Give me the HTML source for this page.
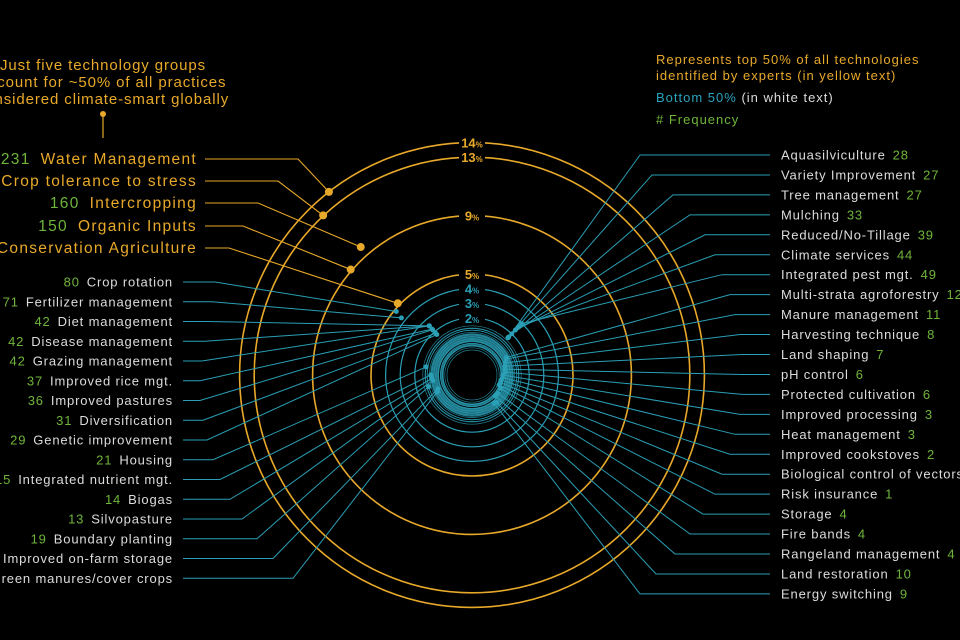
<!DOCTYPE html>
<html><head><meta charset="utf-8"><style>
html,body{margin:0;padding:0;background:#000;}
svg{display:block;font-family:"Liberation Sans",sans-serif;}
</style></head><body>
<svg id="chart" width="960" height="640" viewBox="0 0 960 640" xmlns="http://www.w3.org/2000/svg">
<rect width="960" height="640" fill="#000"/>
<g fill="#e8a92a" font-size="15" letter-spacing="0.9" text-anchor="middle">
<text x="103" y="70">Just five technology groups</text>
<text x="103" y="87">account for ~50% of all practices</text>
<text x="103" y="104">considered climate-smart globally</text>
<circle cx="103" cy="114" r="3" fill="#e8a92a"/>
<line x1="103" y1="114" x2="103" y2="138" stroke="#e8a92a" stroke-width="1.2"/>
</g>
<g font-size="13" letter-spacing="1">
<text x="656" y="64" fill="#e8a92a">Represents top 50% of all technologies</text>
<text x="656" y="80" fill="#e8a92a">identified by experts (in yellow text)</text>
<text x="656" y="102" fill="#2aa3bd">Bottom 50% <tspan fill="#dcdcdc">(in white text)</tspan></text>
<text x="656" y="124" fill="#6fb53a"># Frequency</text>
</g>
<g id="rings"></g><g id="links"></g><g id="dots"></g><g id="labels"></g>
</svg>
<script>
const total = 1650;
const topLabels = ["Water Management","Crop tolerance to stress","Intercropping","Organic Inputs","Conservation Agriculture"];
const topValues = [231, 215, 160, 150, 85];
const topAngles = [-128, -133, -131, -139, -136];
const leftLabels = ["Crop rotation","Fertilizer management","Diet management","Disease management","Grazing management","Improved rice mgt.","Improved pastures","Diversification","Genetic improvement","Housing","Integrated nutrient mgt.","Biogas","Silvopasture","Boundary planting","Improved on-farm storage","Green manures/cover crops"];
const leftValues = [80, 71, 42, 42, 42, 37, 36, 31, 29, 21, 15, 14, 13, 19, 10, 12];
const leftAngles = [-140, -141, -131, -131, -131, -131, -131, -131, -131, -170, 180, 175, 172, 165, 158, 154];
const rightLabels = ["Aquasilviculture","Variety Improvement","Tree management","Mulching","Reduced/No-Tillage","Climate services","Integrated pest mgt.","Multi-strata agroforestry","Manure management","Harvesting technique","Land shaping","pH control","Protected cultivation","Improved processing","Heat management","Improved cookstoves","Biological control of vectors","Risk insurance","Storage","Fire bands","Rangeland management","Land restoration","Energy switching"];
const rightValues = [28, 27, 27, 33, 39, 44, 49, 12, 11, 8, 7, 6, 6, 3, 3, 2, 2, 1, 4, 4, 4, 10, 9];
const rightAngles = [-46, -46, -46, -46, -46, -46, -46, -27, -25, -20, -15, -10, -5, 0, 5, 10, 15, 20, 25, 35, 42, 48, 52];
const ringTicks = [14, 13, 9, 5, 4, 3, 2];

const NS = "http://www.w3.org/2000/svg";
const cx = 472, cy = 375;
const YEL = "#e8a92a", BLU = "#2a9fb5", GRN = "#6fb53a", WHT = "#dcdcdc";
function rScale(v){ return 28 + 14.6 * (v / total * 100); }
function rPct(p){ return 28 + 14.6 * p; }
function pt(v, a){ const r = rScale(v), t = a * Math.PI / 180; return [cx + r * Math.cos(t), cy + r * Math.sin(t)]; }
function mk(tag, attrs, parent){ const e = document.createElementNS(NS, tag); for (const k in attrs) e.setAttribute(k, attrs[k]); parent.appendChild(e); return e; }

const gR = document.getElementById("rings"), gL = document.getElementById("links"), gD = document.getElementById("dots"), gT = document.getElementById("labels");

const small = [...new Set(leftValues.concat(rightValues).filter(v => v <= 21))];
small.forEach(v => {
  const c = mk("circle", {cx, cy, r: rScale(v), fill: "none", stroke: BLU, "stroke-width": 0.8, opacity: 0.85}, gR);
  
  
});
for (let r = 25; r <= 50; r += 2.2) {
  const c = mk("circle", {cx, cy, r, fill: "none", stroke: BLU, "stroke-width": 0.7, opacity: 0.8}, gR);
  
  
}
ringTicks.forEach(p => {
  const col = p >= 5 ? YEL : BLU;
  const r = rPct(p);
  const c = mk("circle", {cx, cy, r, fill: "none", stroke: col, "stroke-width": p >= 5 ? 1.6 : 1.2}, gR);
  
  
  mk("rect", {x: cx - 13, y: cy - r - 7, width: 26, height: 14, fill: "#000"}, gR);
  const t = mk("text", {x: cx, y: cy - r + 5, "text-anchor": "middle", fill: col, "font-size": 13, "font-weight": "bold", "font-family": "'Liberation Sans Narrow','Liberation Sans',sans-serif"}, gR);
  
  
  t.innerHTML = p + '<tspan font-size="8">%</tspan>';
});

const topY = [159, 181, 203, 226, 248], topBend = [298, 278, 258, 243, 229];
topLabels.forEach((lab, i) => {
  const [x, y] = pt(topValues[i], topAngles[i]);
  const l = mk("polyline", {points: `205,${topY[i]} ${topBend[i]},${topY[i]} ${x},${y}`, fill: "none", stroke: YEL, "stroke-width": 1.1}, gL);
  
  
  const d = mk("circle", {cx: x, cy: y, r: 4, fill: YEL}, gD);
  
  
  const t = mk("text", {x: 197, y: topY[i] + 5, "text-anchor": "end", "font-size": 15.5, "letter-spacing": 1.3, fill: YEL}, gT);
  
  
  t.innerHTML = `<tspan fill="${GRN}">${topValues[i]}</tspan><tspan dx="10">${lab}</tspan>`;
});

const leftBend = [215, 212, 208, 205, 202, 200, 200, 203, 207, 213, 220, 230, 242, 257, 273, 293];
leftLabels.forEach((lab, i) => {
  const y0 = 282 + i * 19.75;
  const [x, y] = pt(leftValues[i], leftAngles[i]);
  const l = mk("polyline", {points: `183,${y0} ${leftBend[i]},${y0} ${x},${y}`, fill: "none", stroke: BLU, "stroke-width": 1}, gL);
  
  
  const d = mk("circle", {cx: x, cy: y, r: 2.5, fill: BLU}, gD);
  
  
  const t = mk("text", {x: 173, y: y0 + 4.5, "text-anchor": "end", "font-size": 13, "letter-spacing": 0.85, fill: WHT}, gT);
  
  
  t.innerHTML = `<tspan fill="${GRN}">${leftValues[i]}</tspan><tspan dx="7">${lab}</tspan>`;
});

const rightBend = [640, 652, 673, 690, 705, 715, 722, 730, 735, 740, 742, 742, 742, 740, 735, 730, 722, 715, 703, 690, 675, 656, 640];
rightLabels.forEach((lab, i) => {
  const y0 = 155 + i * 19.95;
  const [x, y] = pt(rightValues[i], rightAngles[i]);
  const l = mk("polyline", {points: `770,${y0} ${rightBend[i]},${y0} ${x},${y}`, fill: "none", stroke: BLU, "stroke-width": 1}, gL);
  
  
  const d = mk("circle", {cx: x, cy: y, r: 2.5, fill: BLU}, gD);
  
  
  const t = mk("text", {x: 781, y: y0 + 4.5, "font-size": 13, "letter-spacing": 0.85, fill: WHT}, gT);
  
  
  t.innerHTML = `${lab}<tspan dx="7" fill="${GRN}">${rightValues[i]}</tspan>`;
});
</script>
</body></html>
